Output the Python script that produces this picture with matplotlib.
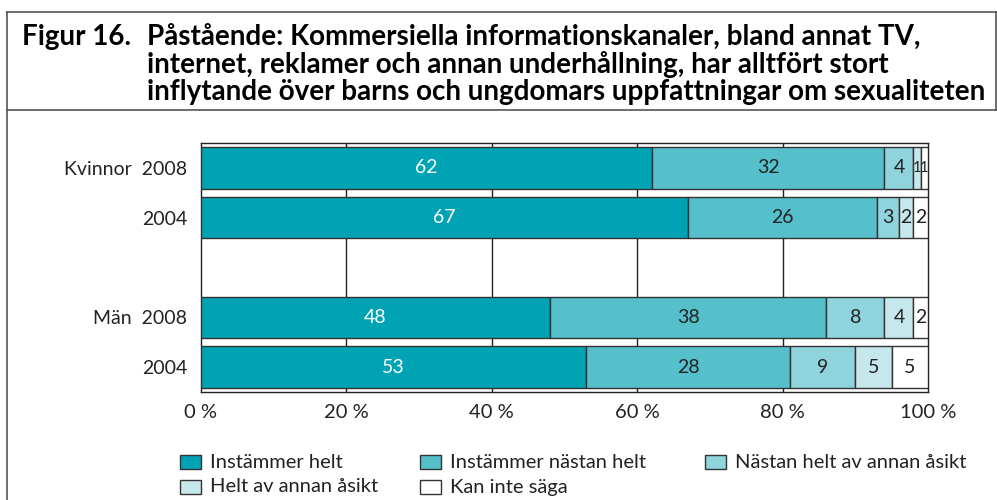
import matplotlib.pyplot as plt
from matplotlib.patches import Rectangle
from matplotlib.lines import Line2D

# data (percent)
rows = ['Kvinnor  2008', '2004', '', 'Män  2008', '2004']
instammer_helt = [62, 67, 0, 48, 53]
instammer_nastan = [32, 26, 0, 38, 28]
nastan_annan = [4, 3, 0, 8, 9]
helt_annan = [1, 2, 0, 4, 5]
kan_inte = [1, 2, 0, 2, 5]

series = [instammer_helt, instammer_nastan, nastan_annan, helt_annan, kan_inte]
labels = ['Instämmer helt', 'Instämmer nästan helt', 'Nästan helt av annan åsikt',
          'Helt av annan åsikt', 'Kan inte säga']
colors = ['#00a3b3', '#55c0cb', '#8fd3dc', '#c6e8ed', '#ffffff']
txtcol = ['white', '#222222', '#222222', '#222222', '#222222']

xticks = [0, 20, 40, 60, 80, 100]

plt.rcParams['font.family'] = ['Lato', 'DejaVu Sans']

fig = plt.figure(figsize=(9.97, 5), dpi=100)
ax = fig.add_axes([201/997, 1-392/500, 727/997, 249/500])

ypos = list(range(len(rows)))
left = [0]*len(rows)
for s, vals in enumerate(series):
    for i in ypos:
        if rows[i] == '' and vals[i] == 0:
            continue
        ax.barh(i, vals[i], left=left[i], height=0.83, color=colors[s],
                edgecolor='#333333', linewidth=1, zorder=3)
        # the 1 % slices are very narrow, so smaller digits there
        fs = 10.5 if vals[i] < 2 else 14
        ax.text(left[i] + vals[i]/2, i, str(vals[i]), ha='center', va='center',
                fontsize=fs, color=txtcol[s], zorder=4)
        left[i] += vals[i]

ax.set_xlim(0, 100)
ax.set_ylim(len(rows)-0.5, -0.5)
for g in xticks[1:-1]:
    ax.axvline(g, color='#222222', lw=1, zorder=1)
ax.set_xticks(xticks)
ax.set_xticklabels([f'{t} %' for t in xticks], fontsize=14.5, color='#222222')
ax.set_yticks(ypos)
ax.set_yticklabels(rows, fontsize=14, color='#222222')
ax.tick_params(length=0)
ax.tick_params(axis='x', pad=9)
ax.tick_params(axis='y', pad=10)
for sp in ax.spines.values():
    sp.set_color('#222222')
    sp.set_linewidth(1)

# legend, drawn by hand in figure coords
leg_x = [180, 420, 705]
leg_y = [462, 487]
for k, lab in enumerate(labels):
    cx = leg_x[k % 3]
    cy = leg_y[k // 3]
    fig.patches.append(Rectangle((cx/997, 1-(cy+7)/500), 21/997, 14/500,
                                 transform=fig.transFigure, facecolor=colors[k],
                                 edgecolor='#333333', linewidth=1))
    fig.text((cx+30)/997, 1-cy/500, lab, fontsize=14.5, color='#222222',
             va='center', ha='left')

# frame lines round the title
for xs, ys in [([7, 996], [12, 12]), ([7, 996], [110, 110]),
               ([7, 7], [12, 500]), ([996, 996], [12, 110])]:
    fig.lines.append(Line2D([x/997 for x in xs], [1-y/500 for y in ys],
                            transform=fig.transFigure, color='#555555', lw=1.2))

fig.text(22/997, 1-37/500, 'Figur 16.', fontsize=20, fontweight='bold', va='center')
title_lines = ['Påstående: Kommersiella informationskanaler, bland annat TV,',
               'internet, reklamer och annan underhållning, har alltfört stort',
               'inflytande över barns och ungdomars uppfattningar om sexualiteten']
for j, t in enumerate(title_lines):
    fig.text(147/997, 1-(37+27.5*j)/500, t, fontsize=20, fontweight='bold', va='center')

fig.savefig('out.png', dpi=100)
